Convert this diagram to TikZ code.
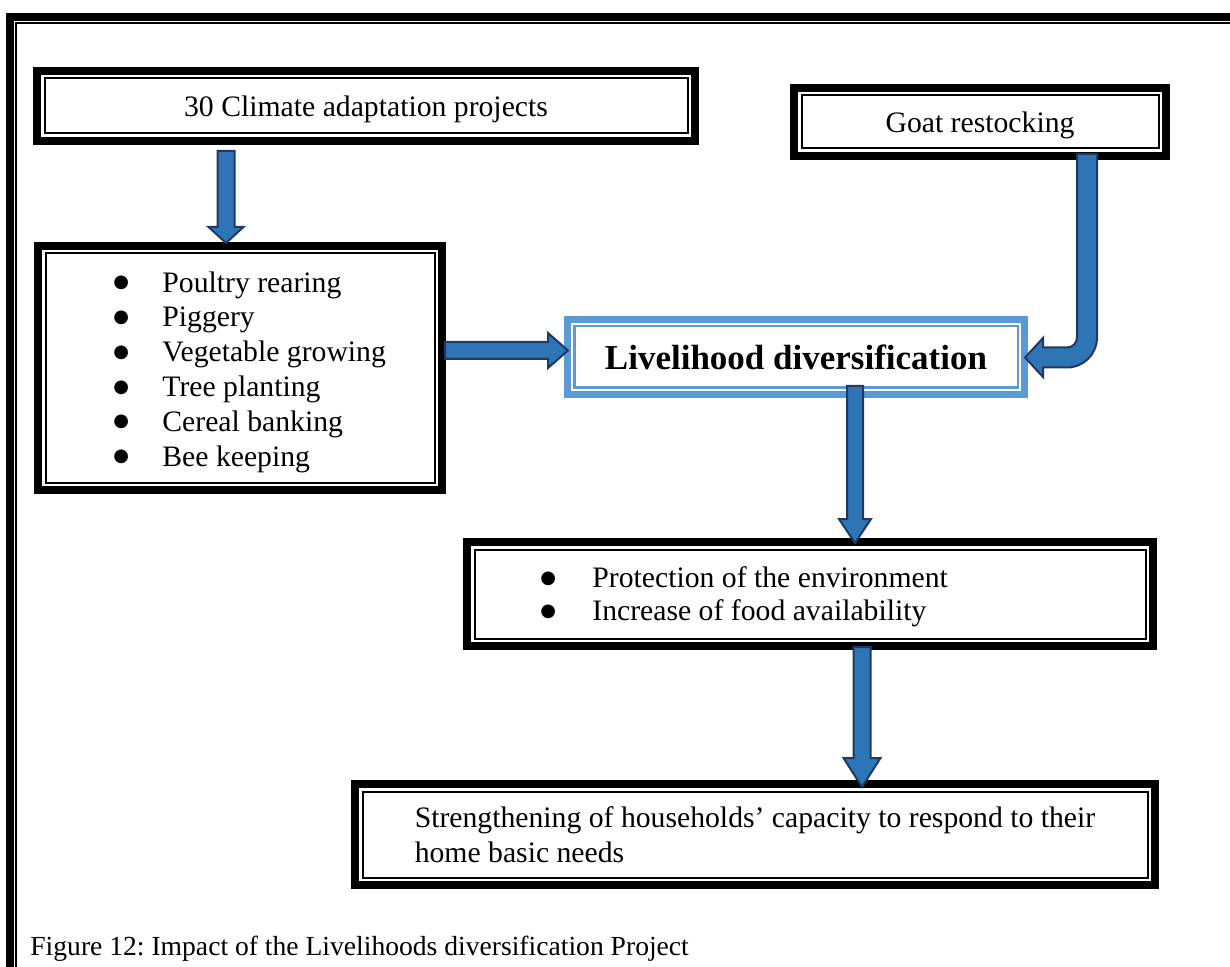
\documentclass[tikz,border=0pt]{standalone}
\usepackage{fontspec}
\setmainfont{Liberation Serif}
\newfontfamily\bulfont{DejaVu Sans}
\usetikzlibrary{calc}
\definecolor{arrowfill}{HTML}{2E75B6}
\definecolor{arrowline}{HTML}{1F3864}
\definecolor{liveblue}{HTML}{5B9BD5}
\frenchspacing
\newcommand\vblk[5]{%
  \filldraw[blk] let \p1=(#1), \p2=(#2) in
    (\x1-#3,\y1) -- (\x1+#3,\y1) -- (\x1+#3,\y2+#5) -- (\x1+#4,\y2+#5) -- (\x1,\y2)
    -- (\x1-#4,\y2+#5) -- (\x1-#3,\y2+#5) -- cycle;}
\newcommand\hblk[5]{%
  \filldraw[blk] let \p1=(#1), \p2=(#2) in
    (\x1,\y1+#3) -- (\x2-#5,\y1+#3) -- (\x2-#5,\y1+#4) -- (\x2,\y1)
    -- (\x2-#5,\y1-#4) -- (\x2-#5,\y1-#3) -- (\x1,\y1-#3) -- cycle;}
\newcommand\bigbul[1]{\makebox[#1][l]{\raisebox{2.2pt}{\bulfont\fontsize{9pt}{9pt}\selectfont ●}}}
\newcommand\lowtxt[1]{\raisebox{-1.5pt}[\height][\depth]{#1}}
\tikzset{
  txt/.style={font=\fontsize{14.85pt}{17.4pt}\selectfont},
  blackbox/.style={draw=black, line width=4pt, inner sep=0pt, outer sep=0pt, txt},
  bluebox/.style={draw=liveblue, line width=3.5pt, inner sep=0pt, outer sep=0pt,
    font=\fontsize{17.5pt}{20pt}\selectfont\bfseries},
  thinblack/.style={draw=black, line width=1pt},
  thinblue/.style={draw=liveblue, line width=1.25pt},
  blk/.style={fill=arrowfill, draw=arrowline, line width=1pt, line join=miter},
}
\begin{document}
\begin{tikzpicture}[x=0.5pt, y=-0.5pt]
\useasboundingbox (0,0) rectangle (1230,967);
% page frame
\draw[line width=4pt] (9.5,17) rectangle (1260,1000);
\draw[line width=1pt] (16,23.5) rectangle (1250,990);

% boxes
\node[blackbox, minimum width=329pt, minimum height=35pt] (b1) at (366,106)
  {\lowtxt{30 Climate adaptation projects}};
\node[blackbox, minimum width=186pt, minimum height=34pt] (goat) at (980,122)
  {\lowtxt{Goat restocking}};
\node[blackbox, minimum width=202pt, minimum height=122pt] (list) at (240,368) {};
\node[bluebox, minimum width=228.5pt, minimum height=37.5pt] (live) at (796,357)
  {Livelihood diversification};
\node[blackbox, minimum width=343pt, minimum height=52pt] (out) at (810,594) {};
\node[blackbox, minimum width=400pt, minimum height=50.5pt, align=left] (str) at (755,834.5)
  {Strengthening of households’ capacity to respond to their\\home basic needs};

% inner thin lines
\foreach \n in {b1,goat,list,out,str}{
  \draw[thinblack] ($(\n.north west)+(7.5,7.5)$) rectangle ($(\n.south east)+(-7.5,-7.5)$);
}
\draw[thinblue] ($(live.north west)+(6.75,6.75)$) rectangle ($(live.south east)+(-6.75,-6.75)$);

% texts
\node[txt, anchor=west, align=left, inner sep=0pt] (listtxt) at (113,372)
  {\bigbul{24.5pt}Poultry rearing\\
   \bigbul{24.5pt}Piggery\\
   \bigbul{24.5pt}Vegetable growing\\
   \bigbul{24.5pt}Tree planting\\
   \bigbul{24.5pt}Cereal banking\\
   \bigbul{24.5pt}Bee keeping};
\node[txt, anchor=west, align=left, inner sep=0pt, font=\fontsize{14.85pt}{16.5pt}\selectfont] (outtxt) at (540,597)
  {\bigbul{26pt}Protection of the environment\\
   \bigbul{26pt}Increase of food availability};
\node[anchor=west, inner sep=0pt, font=\fontsize{13.8pt}{16pt}\selectfont] (cap) at (30,949)
  {Figure 12: Impact of the Livelihoods diversification Project};

% arrow anchor points
\coordinate (a1s) at ($(b1.south -| 226,0)+(0,10)$);
\coordinate (a1e) at ($(list.north -| 226,0)+(0,-3)$);
\coordinate (a2s) at ($(list.east |- 0,350.5)+(3,0)$);
\coordinate (a2e) at ($(live.west |- 0,350.5)+(0.5,0)$);
\coordinate (a4s) at ($(live.south -| 855,0)+(0,-8.5)$);
\coordinate (a4e) at ($(out.north -| 855,0)+(0,1)$);
\coordinate (a5s) at ($(out.south -| 862,0)+(0,1)$);
\coordinate (a5e) at ($(str.north -| 862,0)+(0,3)$);
\coordinate (gs) at ($(goat.south -| 1087,0)+(0,-2)$);
\coordinate (ge) at ($(live.east |- 0,357.5)+(0.5,0)$);

% block arrows
\vblk{a1s}{a1e}{4.25pt}{8.75pt}{8pt}
\hblk{a2s}{a2e}{4.25pt}{8.75pt}{10pt}
\vblk{a4s}{a4e}{4pt}{8pt}{12pt}
\vblk{a5s}{a5e}{4.25pt}{9.25pt}{14.5pt}
\filldraw[blk] let \p1=(gs), \p2=(ge) in
  (\x1-5pt,\y1) -- (\x1+5pt,\y1) -- (\x1+5pt,\y2+10pt)
  .. controls (\x1+5pt,\y2+1.72pt) and (\x1-1.72pt,\y2-5pt) .. (\x1-10pt,\y2-5pt)
  -- (\x2+9pt,\y2-5pt) -- (\x2+9pt,\y2-9.75pt) -- (\x2,\y2) -- (\x2+9pt,\y2+9.75pt)
  -- (\x2+9pt,\y2+5pt) -- (\x1-10pt,\y2+5pt)
  .. controls (\x1-7.24pt,\y2+5pt) and (\x1-5pt,\y2+7.24pt) .. (\x1-5pt,\y2+10pt)
  -- cycle;
\end{tikzpicture}
\end{document}
